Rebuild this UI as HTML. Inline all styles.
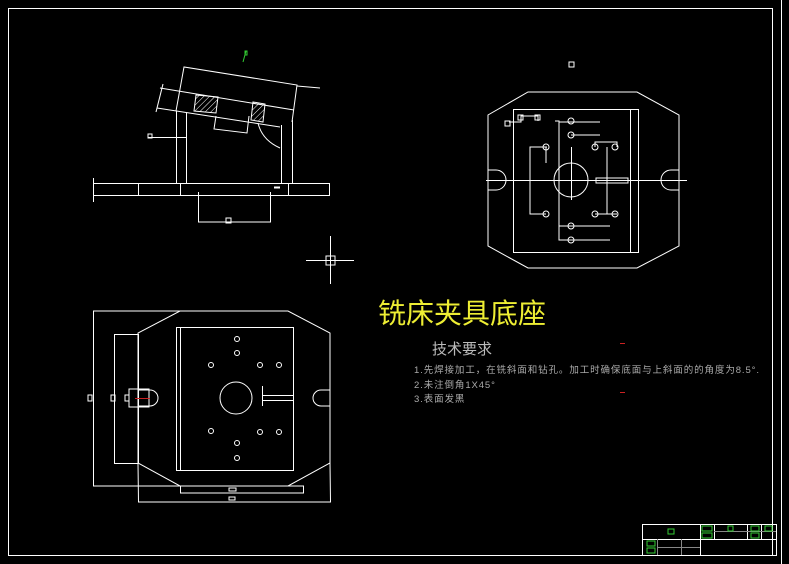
<!DOCTYPE html>
<html><head><meta charset="utf-8"><style>
body{margin:0;background:#000;width:789px;height:564px;overflow:hidden;position:relative;font-family:"Liberation Sans","Noto Sans CJK SC",sans-serif}
svg{position:absolute;left:0;top:0}
.t{position:absolute;white-space:nowrap}
</style></head><body>
<svg width="789" height="564" viewBox="0 0 789 564" fill="none" stroke="#fff" stroke-width="1">
<rect x="8.5" y="8.5" width="764" height="547"/>
<line x1="781.5" y1="0" x2="781.5" y2="564"/>
<!-- title block -->
<rect x="642.5" y="524.5" width="134" height="31"/>
<line x1="642" y1="539.5" x2="776" y2="539.5"/>
<line x1="700.5" y1="524" x2="700.5" y2="555"/>
<line x1="714.5" y1="524" x2="714.5" y2="539"/>
<line x1="747.5" y1="524" x2="747.5" y2="539"/>
<line x1="761.5" y1="524" x2="761.5" y2="539"/>
<line x1="657.5" y1="539" x2="657.5" y2="555" stroke="#888"/>
<line x1="681.5" y1="539" x2="681.5" y2="555" stroke="#888"/>
<line x1="657" y1="547.5" x2="700" y2="547.5" stroke="#888"/>
<line x1="714" y1="531.5" x2="776" y2="531.5" stroke="#888"/>
<g stroke="#3c3">
<rect x="668" y="529" width="6" height="5"/><rect x="702" y="526" width="10" height="5"/><rect x="702" y="533" width="10" height="5"/>
<rect x="728" y="526" width="5" height="5"/><rect x="751" y="526" width="8" height="5"/><rect x="751" y="533" width="8" height="5"/><rect x="765" y="526" width="7" height="5"/>
<rect x="647" y="541" width="8" height="5"/><rect x="647" y="548" width="8" height="5"/>
</g>
<!-- top-left view -->
<rect x="93.5" y="183.5" width="236" height="12"/>
<line x1="138.5" y1="183" x2="138.5" y2="195"/><line x1="180.5" y1="183" x2="180.5" y2="195"/><line x1="288.5" y1="183" x2="288.5" y2="195"/>
<polyline points="198.5,192 198.5,222 270.5,222 270.5,192"/>
<rect x="226" y="218" width="5" height="5"/>
<line x1="176.5" y1="111" x2="176.5" y2="183"/><line x1="186.5" y1="112" x2="186.5" y2="183"/>
<line x1="281.5" y1="125" x2="281.5" y2="183"/><line x1="292.5" y1="120" x2="292.5" y2="183"/>
<polyline points="176,111 184,67 297,85 292,122"/>
<line x1="160" y1="88" x2="294" y2="110"/><line x1="157" y1="108" x2="280" y2="127"/>
<line x1="163" y1="84" x2="156" y2="112"/>
<line x1="297" y1="86" x2="320" y2="88"/>
<polyline points="216,116 214,129 247,133 249,116"/>
<path d="M196 95 L218 97 L216 113 L194 111 Z" fill="url(#h)"/>
<path d="M253 102 L265 104 L263 122 L251 120 Z" fill="url(#h)"/>
<path d="M258 123 Q262 140 280 148" />
<line x1="148" y1="137.5" x2="186" y2="137.5"/><rect x="148" y="134" width="4" height="4"/>
<line x1="93.5" y1="178" x2="93.5" y2="202"/>
<line x1="274" y1="187.5" x2="280" y2="187.5" stroke-width="2"/>
<path d="M243 62 L246 51" stroke="#3c3"/><rect x="245" y="51" width="2" height="4" stroke="#3c3"/>
<!-- crosshair -->
<line x1="306" y1="260.5" x2="354" y2="260.5"/><line x1="330.5" y1="236" x2="330.5" y2="284"/>
<rect x="326" y="256" width="9" height="9"/>
<rect x="569" y="62" width="5" height="5"/>
<!-- right view -->
<polygon points="528,92 637,92 679,115 679,246 637,268 528,268 488,246 488,115"/>
<rect x="513.5" y="109.5" width="125" height="143"/>
<line x1="630.5" y1="109" x2="630.5" y2="252"/>
<line x1="486" y1="180.5" x2="687" y2="180.5"/>
<circle cx="571" cy="180" r="17"/>
<line x1="571.5" y1="147" x2="571.5" y2="200"/>
<path d="M488 170 H496 A10 10 0 0 1 496 190 H488"/><path d="M679 170 H671 A10 10 0 0 0 671 190 H679"/>
<polyline points="555,121 559,121 559,240 610,240"/><line x1="559" y1="122" x2="600" y2="122"/>
<line x1="571" y1="135" x2="600" y2="135"/><line x1="559" y1="226" x2="610" y2="226"/>
<polyline points="547,147 530,147 530,214 546,214"/>
<line x1="546" y1="147" x2="546" y2="163"/>
<polyline points="595,147 595,142 617,142 617,147"/>
<line x1="607" y1="147" x2="607" y2="214"/><line x1="595" y1="214" x2="617" y2="214"/>
<rect x="596" y="178" width="32" height="5"/>
<circle cx="571" cy="121" r="3"/><circle cx="571" cy="135" r="3"/><circle cx="546" cy="147" r="3"/><circle cx="595" cy="147" r="3"/><circle cx="615" cy="147" r="3"/>
<circle cx="546" cy="214" r="3"/><circle cx="595" cy="214" r="3"/><circle cx="615" cy="214" r="3"/><circle cx="571" cy="226" r="3"/><circle cx="571" cy="240" r="3"/>
<polyline points="509,122 521,122 521,116 538,116 538,121"/>
<rect x="518" y="115" width="5" height="5"/><rect x="535" y="115" width="5" height="5"/><rect x="505" y="121" width="5" height="5"/>
<!-- bottom-left view -->
<polyline points="288,311 93.5,311 93.5,486 288,486"/>
<polygon points="180,311 288,311 330,333 330,463 288,486 180,486 138,463 138,333"/>
<polyline points="138,463 138.5,502 330.5,502 330,463"/>
<rect x="114.5" y="334.5" width="24" height="129"/>
<rect x="176.5" y="327.5" width="117" height="143"/>
<line x1="180.5" y1="327" x2="180.5" y2="471"/>
<rect x="180.5" y="486" width="123" height="7"/>
<circle cx="236" cy="398" r="16"/>
<path d="M138 390 H150 A8 8 0 0 1 150 406 H138"/>
<rect x="129" y="389" width="20" height="18"/>
<line x1="135" y1="398.5" x2="150" y2="398.5" stroke="#c22"/>
<path d="M330 390 H321 A8 8 0 0 0 321 406 H330"/>
<rect x="262.5" y="395.5" width="31" height="5"/>
<line x1="262.5" y1="386" x2="262.5" y2="406"/>
<rect x="88" y="395" width="4" height="6"/><rect x="111" y="395" width="4" height="6"/><rect x="125" y="395" width="4" height="6"/>
<rect x="229" y="488" width="7" height="3"/><rect x="229" y="497" width="6" height="3"/>
<g>
<circle cx="237" cy="339" r="2.5"/><circle cx="237" cy="353" r="2.5"/><circle cx="211" cy="365" r="2.5"/><circle cx="260" cy="365" r="2.5"/><circle cx="279" cy="365" r="2.5"/>
<circle cx="211" cy="431" r="2.5"/><circle cx="260" cy="432" r="2.5"/><circle cx="279" cy="432" r="2.5"/><circle cx="237" cy="443" r="2.5"/><circle cx="237" cy="458" r="2.5"/>
</g>
<defs><pattern id="h" width="4" height="4" patternUnits="userSpaceOnUse" patternTransform="rotate(45)"><line x1="0" y1="0" x2="0" y2="4" stroke="#fff"/></pattern></defs>
<line x1="620" y1="343.5" x2="625" y2="343.5" stroke="#c22"/><line x1="620" y1="392.5" x2="625" y2="392.5" stroke="#c22"/>
</svg>
<div class="t" style="left:378px;top:297px;font-size:28px;color:#ee3;line-height:34px">铣床夹具底座</div>
<div class="t" style="left:432px;top:341px;font-size:15px;color:#bbb;line-height:18px">技术要求</div>
<div class="t" style="left:414px;top:364px;font-size:9.5px;color:#aaa;line-height:14.5px;letter-spacing:0.9px">1.先焊接加工，在铣斜面和钻孔。加工时确保底面与上斜面的的角度为8.5°.<br>2.未注倒角1X45°<br>3.表面发黑</div>
</body></html>
